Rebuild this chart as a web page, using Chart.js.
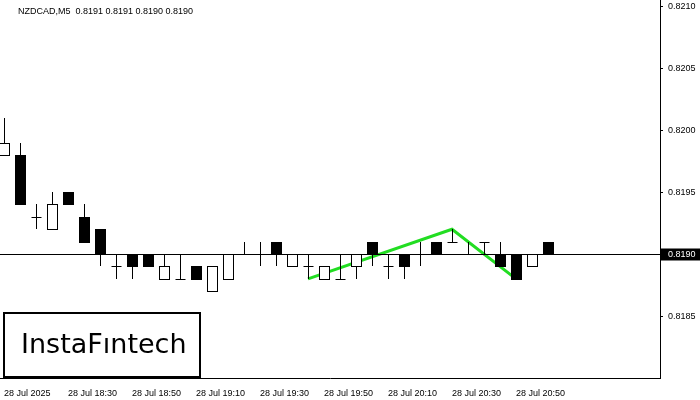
<!DOCTYPE html>
<html><head><script src="https://cdn.jsdelivr.net/npm/chart.js@4"></script>
<style>body{margin:0;background:#fff}</style></head>
<body><canvas id="c" width="700" height="400"></canvas>
<script>
const times=['28 Jul 2025','28 Jul 18:30','28 Jul 18:50','28 Jul 19:10','28 Jul 19:30','28 Jul 19:50','28 Jul 20:10','28 Jul 20:30','28 Jul 20:50'];
const opens =[.8198,.8198,.8193,.8192,.8195,.8193,.8192,.8189,.8190,.8190,.8188,.8188,.8189,.8187,.8188,.8190,.8190,.8191,.8189,.8189,.8188,.8188,.8189,.8191,.8189,.8190,.8190,.8191,.8191,.8190,.8191,.8190,.8190,.8189,.8191];
const highs =[.8201,.8199,.8194,.8195,.8195,.8194,.8192,.8190,.8190,.8190,.8190,.8190,.8189,.8189,.8190,.8191,.8191,.8191,.8190,.8190,.8189,.8190,.8190,.8191,.8190,.8190,.8191,.8191,.8192,.8191,.8191,.8191,.8190,.8190,.8191];
const lows  =[.8198,.8194,.8192,.8192,.8194,.8191,.8189,.8188,.8188,.8189,.8188,.8188,.8188,.8187,.8188,.8190,.8189,.8189,.8189,.8188,.8188,.8188,.8188,.8189,.8188,.8188,.8189,.8190,.8191,.8190,.8190,.8189,.8188,.8189,.8190];
const closes=[.8199,.8194,.8193,.8194,.8194,.8191,.8190,.8189,.8189,.8189,.8189,.8188,.8188,.8189,.8190,.8190,.8190,.8190,.8190,.8189,.8189,.8188,.8190,.8190,.8189,.8189,.8190,.8190,.8191,.8190,.8191,.8189,.8188,.8190,.8190];
const patternX=[19,28,32];
const patternY=[.8188,.8192,.8188];
const yTickLabels=['0.8185','0.8195','0.8200','0.8205','0.8210'];
const current=.8190;
const FONT='"Liberation Sans", Arial, sans-serif';

const candles={id:'candles',afterDatasetsDraw(ch){
  const x=ch.scales.x,y=ch.scales.y,c=ch.ctx,a=ch.chartArea;c.save();
  c.beginPath();c.rect(a.left,a.top,a.right-a.left,a.bottom-a.top);c.clip();
  c.strokeStyle='#000';c.lineWidth=1;
  const py=Math.round(y.getPixelForValue(current))+0.5;
  c.beginPath();c.moveTo(a.left,py);c.lineTo(a.right,py);c.stroke();
  opens.forEach((o,i)=>{
    const cx=Math.round(x.getPixelForValue(i))+0.5;
    const yo=Math.round(y.getPixelForValue(o)),yc=Math.round(y.getPixelForValue(closes[i]));
    const yh=Math.round(y.getPixelForValue(highs[i])),yl=Math.round(y.getPixelForValue(lows[i]));
    c.beginPath();c.moveTo(cx,yh);c.lineTo(cx,yl);c.stroke();
    const t=Math.min(yo,yc),b=Math.max(yo,yc);
    if(b-t<1){c.beginPath();c.moveTo(cx-5,t+0.5);c.lineTo(cx+5,t+0.5);c.stroke();}
    else if(closes[i]<o){c.fillStyle='#000';c.fillRect(cx-5.5,t,11,b-t+1);}
    else{c.fillStyle='#fff';c.fillRect(cx-5,t,10,b-t);c.strokeRect(cx-5,t+0.5,10,b-t);}
  });
  c.restore();
  c.save();c.font='9px '+FONT;c.textBaseline='middle';c.fillStyle='#000';c.strokeStyle='#000';
  yTickLabels.forEach(s=>{const ty=Math.round(y.getPixelForValue(parseFloat(s)))+0.5;
    c.beginPath();c.moveTo(a.right,ty);c.lineTo(a.right+3,ty);c.stroke();c.fillText(s,a.right+8,ty);});
  c.fillRect(a.right+1,py-6,40,12);
  c.fillStyle='#fff';c.fillText('0.8190',a.right+8,py);
  c.fillStyle='#000';c.fillText('NZDCAD,M5  0.8191 0.8191 0.8190 0.8190',18,12);
  c.fillStyle='#fff';c.fillRect(3,312,198,66);c.lineWidth=2;c.strokeStyle='#000';c.strokeRect(4,313,196,64);
  c.fillStyle='#000';c.font='27px "DejaVu Sans"';c.fillText('InstaFıntech',21,346);
  c.restore();
}};

new Chart(document.getElementById('c'),{
  type:'line',
  data:{datasets:[{data:patternX.map((v,i)=>({x:v,y:patternY[i]})),borderColor:'#22dd22',borderWidth:3,pointRadius:0,tension:0}]},
  options:{responsive:false,animation:false,devicePixelRatio:1,
    layout:{padding:{top:0,right:0,bottom:2,left:0}},
    plugins:{legend:{display:false},tooltip:{enabled:false}},
    scales:{
      x:{type:'linear',min:-0.25,max:41,grid:{display:false},border:{color:'#000'},
        afterBuildTicks(s){s.ticks=times.map((t,i)=>({value:i*4}));},
        afterFit(s){s.height=20;},
        ticks:{align:'start',autoSkip:false,maxRotation:0,color:'#000',font:{size:9,family:FONT},padding:2,callback:(v)=>times[Math.round(v/4)]}},
      y:{position:'right',min:.81800,max:.82105,grid:{display:false},border:{color:'#000'},
        afterFit(s){s.width=40;},
        ticks:{display:false}}
    }},
  plugins:[candles]
});
</script></body></html>
